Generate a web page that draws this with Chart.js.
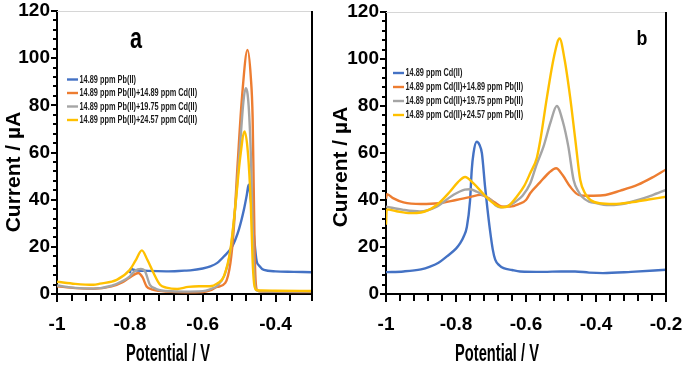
<!DOCTYPE html>
<html>
<head>
<meta charset="utf-8">
<script src="https://cdn.jsdelivr.net/npm/chart.js@4.4.1/dist/chart.umd.min.js"></script>
<style>
    html, body { margin: 0; padding: 0; background: #fff; }
    #wrap    { position: relative; width: 685px; height: 372px; overflow: hidden; }
    #chartA  { position: absolute; left: 0;     top: 0; }
    #chartB  { position: absolute; left: 325px; top: 0; }
    #overlay { position: absolute; left: 0;     top: 0; z-index: 5; pointer-events: none; }
</style>
</head>
<body>
<div id="wrap">
    <canvas id="chartA" width="330" height="372"></canvas>
    <canvas id="chartB" width="360" height="372"></canvas>
    <canvas id="overlay" width="685" height="372"></canvas>
</div>
<script>
/* ── Panel a: Pb(II) with increasing Cd(II) ─────────────────── */
const labelsA = [
    '14.89 ppm Pb(II)',
    '14.89 ppm Pb(II)+14.89 ppm Cd(II)',
    '14.89 ppm Pb(II)+19.75 ppm Cd(II)',
    '14.89 ppm Pb(II)+24.57 ppm Cd(II)',
];

const potA_pb    = [-0.800, -0.797, -0.79, -0.75, -0.70, -0.65, -0.634, -0.60, -0.579, -0.56, -0.542, -0.519, -0.501, -0.487, -0.479, -0.474, -0.468, -0.46, -0.452, -0.445, -0.432, -0.40, -0.35, -0.30];
const curA_pb    = [8.8, 10.8, 10.3, 9.8, 9.6, 9.9, 10.0, 10.8, 11.7, 13.2, 15.9, 20.2, 27.2, 35.7, 42.0, 46.3, 40.0, 25.8, 14.0, 12.0, 10.2, 9.6, 9.4, 9.2];

const potA_cd15  = [-1.0, -0.95, -0.90, -0.85, -0.82, -0.80, -0.777, -0.765, -0.754, -0.74, -0.72, -0.70, -0.65, -0.60, -0.58, -0.56, -0.538, -0.524, -0.515, -0.504, -0.492, -0.477, -0.468, -0.463, -0.460, -0.457, -0.454, -0.45, -0.44, -0.40, -0.30];
const curA_cd15  = [3.3, 2.5, 2.2, 3.2, 5.0, 7.0, 8.9, 7.0, 3.2, 2.0, 1.3, 1.0, 0.7, 0.8, 1.5, 3.0, 4.7, 13.1, 27.2, 55.5, 83.7, 103.5, 92.0, 75.0, 45.0, 15.0, 4.0, 1.6, 1.0, 0.9, 0.8];

const potA_cd20  = [-1.0, -0.95, -0.90, -0.85, -0.82, -0.80, -0.785, -0.77, -0.758, -0.745, -0.73, -0.72, -0.70, -0.65, -0.60, -0.58, -0.56, -0.54, -0.525, -0.51, -0.498, -0.488, -0.482, -0.474, -0.467, -0.462, -0.458, -0.455, -0.45, -0.44, -0.40, -0.30];
const curA_cd20  = [3.6, 2.6, 2.3, 3.5, 5.5, 7.5, 10.0, 10.6, 9.5, 3.9, 2.3, 1.7, 1.3, 1.0, 1.2, 2.0, 3.5, 8.0, 17.0, 38.0, 62.0, 82.0, 87.3, 80.0, 55.0, 22.0, 6.0, 2.5, 1.4, 1.1, 1.0, 1.0];

const potA_cd25  = [-1.0, -0.95, -0.90, -0.882, -0.836, -0.80, -0.785, -0.767, -0.752, -0.735, -0.717, -0.70, -0.67, -0.64, -0.61, -0.58, -0.56, -0.542, -0.524, -0.51, -0.497, -0.485, -0.476, -0.468, -0.463, -0.459, -0.455, -0.45, -0.44, -0.40, -0.30];
const curA_cd25  = [5.2, 4.3, 3.9, 4.4, 6.0, 10.3, 14.0, 18.5, 14.5, 8.9, 3.9, 2.7, 2.1, 3.0, 3.3, 3.3, 4.5, 7.5, 18.8, 38.0, 58.0, 68.9, 60.0, 38.0, 14.0, 4.5, 2.0, 1.6, 1.5, 1.4, 1.3];

/* ── Panel b: Cd(II) with increasing Pb(II) ─────────────────── */
const labelsB = [
    '14.89 ppm Cd(II)',
    '14.89 ppm Cd(II)+14.89 ppm Pb(II)',
    '14.89 ppm Cd(II)+19.75 ppm Pb(II)',
    '14.89 ppm Cd(II)+24.57 ppm Pb(II)',
];

const potB_cd    = [-1.0, -0.95, -0.90, -0.874, -0.85, -0.826, -0.80, -0.788, -0.778, -0.769, -0.76, -0.755, -0.75, -0.741, -0.733, -0.726, -0.717, -0.71, -0.703, -0.695, -0.688, -0.676, -0.664, -0.64, -0.617, -0.55, -0.50, -0.46, -0.42, -0.38, -0.30, -0.20];
const curB_cd    = [9.3, 9.6, 10.5, 11.7, 13.3, 16.0, 19.3, 21.6, 24.5, 28.5, 39.5, 52.8, 59.9, 64.8, 63.5, 59.9, 45.7, 36.0, 27.3, 19.0, 14.6, 12.2, 11.0, 10.2, 9.6, 9.4, 9.6, 9.6, 9.1, 8.9, 9.4, 10.3];

const potB_pb15  = [-1.0, -0.997, -0.98, -0.95, -0.90, -0.85, -0.80, -0.76, -0.73, -0.71, -0.69, -0.67, -0.645, -0.62, -0.60, -0.588, -0.56, -0.535, -0.514, -0.495, -0.474, -0.45, -0.42, -0.38, -0.33, -0.28, -0.24, -0.20];
const curB_pb15  = [40.5, 42.5, 40.8, 39.0, 38.3, 38.6, 40.0, 41.2, 42.2, 41.0, 39.0, 37.3, 37.2, 38.3, 40.0, 42.9, 47.5, 51.5, 53.5, 50.5, 45.7, 42.2, 41.8, 42.0, 44.0, 46.5, 49.5, 53.0];

const potB_pb20  = [-1.0, -0.95, -0.903, -0.855, -0.807, -0.775, -0.76, -0.74, -0.72, -0.703, -0.685, -0.674, -0.655, -0.63, -0.61, -0.588, -0.57, -0.55, -0.53, -0.512, -0.495, -0.479, -0.464, -0.45, -0.44, -0.42, -0.397, -0.37, -0.33, -0.28, -0.24, -0.20];
const curB_pb20  = [37.2, 35.8, 35.1, 37.2, 42.2, 44.4, 44.6, 43.5, 41.8, 40.3, 37.5, 36.9, 37.3, 39.3, 41.8, 47.0, 55.0, 62.7, 73.0, 80.0, 73.5, 62.7, 48.5, 43.5, 41.4, 39.3, 38.6, 37.8, 38.2, 40.0, 42.0, 44.3];

const potB_pb25  = [-1.0, -0.998, -0.97, -0.93, -0.90, -0.855, -0.817, -0.795, -0.774, -0.75, -0.722, -0.693, -0.669, -0.65, -0.626, -0.605, -0.588, -0.569, -0.559, -0.54, -0.52, -0.504, -0.49, -0.474, -0.459, -0.445, -0.43, -0.416, -0.39, -0.35, -0.30, -0.25, -0.20];
const curB_pb25  = [29.5, 36.0, 35.2, 34.4, 34.7, 37.9, 43.6, 47.5, 49.8, 47.1, 42.6, 38.6, 36.9, 37.5, 41.5, 46.0, 51.4, 58.0, 65.5, 83.9, 101.0, 108.7, 100.0, 83.9, 65.5, 48.5, 42.5, 40.0, 38.6, 38.3, 39.0, 40.2, 41.4];

/* ── Shared look ─────────────────────────────────────────────── */
const SERIES_COLORS = ['#4472C4', '#ED7D31', '#A5A5A5', '#FFC000'];
const TICK_FONT     = { family: "'Liberation Sans', Arial, sans-serif", size: 19, weight: 'bold' };
const XTICK_FONT    = { family: "'Liberation Sans Narrow', 'Liberation Sans', Arial, sans-serif", size: 19, weight: 'bold' };

function toPoints(xs, ys) {
    return xs.map((x, i) => ({ x, y: ys[i] }));
}

function makeDatasets(labels, pairs) {
    return pairs.map(([xs, ys], i) => ({
        label: labels[i],
        data: toPoints(xs, ys),
        borderColor: SERIES_COLORS[i],
        backgroundColor: SERIES_COLORS[i],
        borderWidth: 2.4,
        pointRadius: 0,
        cubicInterpolationMode: 'monotone',
        order: 4 - i,
    }));
}

/* draw text squeezed horizontally (source figure uses a condensed face) */
function squeezed(ctx, text, x, y, sx, align) {
    ctx.save();
    ctx.translate(x, y);
    ctx.scale(sx, 1);
    ctx.textAlign = align;
    ctx.fillText(text, 0, 0);
    ctx.restore();
}

/* ── In-plot legend, panel letter and axis titles ────────────── */
const decorPlugin = {
    id: 'decor',
    afterDatasetsDraw(chart, args, o) {
        const ctx = chart.ctx;
        ctx.save();

        /* legend */
        ctx.textBaseline = 'middle';
        ctx.font = "bold 11.5px 'Liberation Sans', Arial, sans-serif";
        chart.data.datasets.forEach((ds, i) => {
            const ly = o.legendY + i * o.legendGap;
            ctx.strokeStyle = ds.borderColor;
            ctx.lineWidth = 2.4;
            ctx.beginPath();
            ctx.moveTo(o.legendX, ly);
            ctx.lineTo(o.legendX + 11, ly);
            ctx.stroke();
            ctx.fillStyle = '#1a1a1a';
            squeezed(ctx, ds.label, o.legendX + 12.5, ly, 0.64, 'left');
        });

        /* panel letter */
        ctx.fillStyle = '#000';
        ctx.textBaseline = 'alphabetic';
        ctx.font = `bold ${o.letterSize}px 'Liberation Sans', Arial, sans-serif`;
        squeezed(ctx, o.letter, o.letterX, o.letterY, o.letterSx, 'center');

        /* axis titles */
        ctx.font = "bold 24px 'Liberation Sans', Arial, sans-serif";
        squeezed(ctx, 'Potential / V', o.xTitleX, o.xTitleY, 0.61, 'center');

        ctx.save();
        ctx.translate(o.yTitleX, o.yTitleY);
        ctx.rotate(-Math.PI / 2);
        ctx.textBaseline = 'middle';
        ctx.font = "bold 21px 'Liberation Sans', Arial, sans-serif";
        ctx.textAlign = 'center';
        ctx.fillText('Current / \u00B5A', 0, 0);
        ctx.restore();

        ctx.restore();
    },
};

function fmtPotential(v) {
    const h = Math.round(v * 100);
    return Math.abs(h % 20) === 0 ? String(Math.round(v * 10) / 10) : '';
}

function buildChart(canvasId, datasets, xMax, yAxisWidth, padRight, padTop, decor) {
    return new Chart(document.getElementById(canvasId), {
        type: 'line',
        data: { datasets },
        options: {
            responsive: false,
            animation: false,
            devicePixelRatio: 1,
            parsing: false,
            layout: { padding: { left: 0, right: padRight, top: padTop, bottom: 0 } },
            plugins: {
                legend: { display: false },
                tooltip: { enabled: false },
                decor,
            },
            scales: {
                x: {
                    type: 'linear',
                    min: -1, max: xMax,
                    border: { display: true, color: '#000', width: 2 },
                    grid: { display: false, drawTicks: false },
                    ticks: {
                        stepSize: 0.04, autoSkip: false, maxRotation: 0, minRotation: 0, padding: 19,
                        color: '#000', font: XTICK_FONT,
                        callback: fmtPotential,
                    },
                    afterFit: (s) => {
                        s.height = 78;
                        s.paddingLeft = 0;
                        s.paddingRight = 0;
                    },
                },
                y: {
                    min: 0, max: 120,
                    border: { display: true, color: '#000', width: 2 },
                    grid: { display: false, drawTicks: false },
                    ticks: {
                        stepSize: 4, autoSkip: false, padding: 7,
                        color: '#000', font: TICK_FONT,
                        callback: (v) => (v % 20 === 0 ? String(v) : ''),
                    },
                    afterFit: (s) => {
                        s.width = yAxisWidth;
                        s.paddingTop = 0;
                        s.paddingBottom = 0;
                    },
                },
            },
        },
        plugins: [decorPlugin],
    });
}

/* ── Frame + tick marks on a top overlay, from each chart's scales ── */
function drawFrameAndTicks(chart, offsetX) {
    const ctx = document.getElementById('overlay').getContext('2d');
    const a = chart.chartArea;
    const sx = chart.scales.x;
    const sy = chart.scales.y;
    ctx.save();
    ctx.translate(offsetX, 0);

    ctx.strokeStyle = '#d6d6d6';
    ctx.lineWidth = 1;
    ctx.beginPath();
    ctx.moveTo(a.left, a.top + 0.5);
    ctx.lineTo(a.right, a.top + 0.5);
    ctx.stroke();

    ctx.strokeStyle = '#000';
    ctx.lineWidth = 2;
    ctx.beginPath();
    ctx.moveTo(a.right, a.top);
    ctx.lineTo(a.right, a.bottom + 1);
    sx.ticks.forEach((t) => {
        const px = Math.round(sx.getPixelForValue(t.value));
        ctx.moveTo(px, a.bottom);
        ctx.lineTo(px, a.bottom + (t.label ? 8 : 7));
    });
    sy.ticks.forEach((t) => {
        const py = Math.round(sy.getPixelForValue(t.value));
        ctx.moveTo(a.left, py);
        ctx.lineTo(a.left - (t.label ? 6 : 4), py);
    });
    ctx.stroke();
    ctx.restore();
}

const chartA = buildChart('chartA',
    makeDatasets(labelsA, [[potA_pb, curA_pb], [potA_cd15, curA_cd15], [potA_cd20, curA_cd20], [potA_cd25, curA_cd25]]),
    -0.3, 57, 18, 11,
    { legendX: 67, legendY: 79.5, legendGap: 13.5,
      letter: 'a', letterX: 136, letterY: 48, letterSize: 30, letterSx: 0.72,
      xTitleX: 168, xTitleY: 361, yTitleX: 14, yTitleY: 172 });

const chartB = buildChart('chartB',
    makeDatasets(labelsB, [[potB_cd, curB_cd], [potB_pb15, curB_pb15], [potB_pb20, curB_pb20], [potB_pb25, curB_pb25]]),
    -0.2, 61, 19, 12,
    { legendX: 68, legendY: 73, legendGap: 14,
      letter: 'b', letterX: 317, letterY: 45, letterSize: 21, letterSx: 0.85,
      xTitleX: 172, xTitleY: 361, yTitleX: 16, yTitleY: 167 });

drawFrameAndTicks(chartA, 0);
drawFrameAndTicks(chartB, 325);
</script>
</body>
</html>
